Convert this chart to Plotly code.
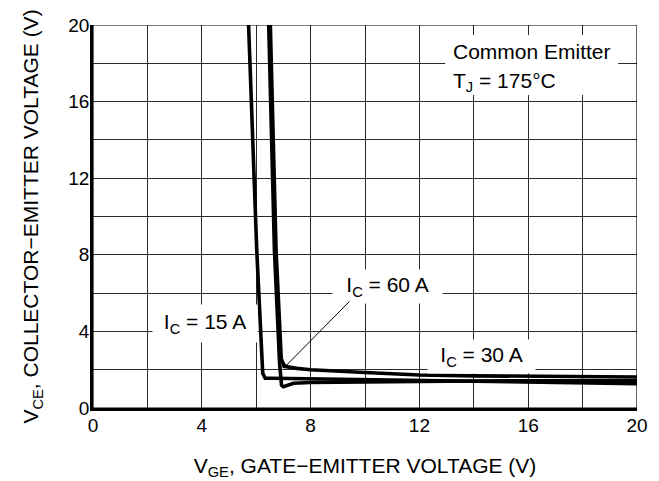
import plotly.graph_objects as go

# Data
vge_15 = [5.72, 6.02, 6.24, 6.33, 6.6, 8, 10, 12, 14, 16, 18, 20]
vce_15 = [20, 8.25, 1.81, 1.55, 1.55, 1.52, 1.48, 1.43, 1.38, 1.33, 1.30, 1.27]

vge_30 = [6.46, 6.67, 6.86, 6.93, 7.0, 7.37, 8, 10, 12, 14, 16, 18, 20]
vce_30 = [20, 8.25, 2.33, 1.2, 1.11, 1.29, 1.33, 1.37, 1.40, 1.41, 1.42, 1.42, 1.42]

vge_60 = [6.52, 6.73, 6.92, 7.02, 7.49, 8, 10, 12, 14, 16, 18, 20]
vce_60 = [20, 8.25, 2.6, 2.18, 2.07, 2.0, 1.85, 1.72, 1.68, 1.66, 1.64, 1.62]

x_ticks = [0, 4, 8, 12, 16, 20]
y_ticks = [0, 4, 8, 12, 16, 20]

FONT = "Liberation Sans, Arial, sans-serif"
GRID = "#2a2a2a"

fig = go.Figure()
for xs, ys in [(vge_15, vce_15), (vge_30, vce_30), (vge_60, vce_60)]:
    fig.add_trace(go.Scatter(x=xs, y=ys, mode="lines",
                             line=dict(color="black", width=3.6, shape="linear"),
                             hoverinfo="skip", showlegend=False))

axis_common = dict(range=[0, 20], showgrid=True, gridcolor=GRID,
                   gridwidth=1, minor=dict(dtick=2, showgrid=True, gridcolor=GRID, gridwidth=1),
                   showline=True, linecolor="black", linewidth=2.5, zeroline=False,
                   ticks="", tickfont=dict(family=FONT, size=19, color="black"),
                   fixedrange=True, automargin=False)

fig.update_xaxes(**axis_common, tickvals=x_ticks, ticklabelstandoff=-2,
                 title=dict(text="V<sub>GE</sub>, GATE\u2212EMITTER VOLTAGE (V)",
                            font=dict(family=FONT, size=21, color="black"), standoff=24))
fig.update_yaxes(**axis_common, tickvals=y_ticks, ticklabelstandoff=-3,
                 title=dict(text="V<sub>CE</sub>, COLLECTOR\u2212EMITTER VOLTAGE (V)",
                            font=dict(family=FONT, size=21, color="black"), standoff=24))

shapes = [
    dict(type="rect", xref="x", yref="y", x0=0, x1=20, y0=0, y1=20,
         line=dict(color="black", width=1.2), layer="above"),
    dict(type="rect", xref="x", yref="y", x0=12.95, x1=19.31, y0=16.34, y1=19.48,
         fillcolor="white", line=dict(width=0), layer="between"),
]

afont = dict(family=FONT, size=21, color="black")
annotations = [
    dict(x=4.125, y=4.41, xref="x", yref="y", text="I<sub>C</sub> = 15 A",
         showarrow=False, bgcolor="white", width=104, height=37, borderpad=0, font=afont),
    dict(x=10.83, y=6.34, xref="x", yref="y", text="I<sub>C</sub> = 60 A",
         showarrow=False, bgcolor="white", width=109, height=33, borderpad=0, font=afont),
    dict(x=14.29, y=2.69, xref="x", yref="y", text="I<sub>C</sub> = 30 A",
         showarrow=False, bgcolor="white", width=107, height=33, borderpad=0, font=afont),
    dict(x=7.0, y=2.07, xref="x", yref="y", ax=9.48, ay=5.64, axref="x", ayref="y",
         text="", showarrow=True, arrowhead=1, arrowsize=1.6, arrowwidth=1,
         arrowcolor="black", standoff=0),
    dict(x=13.15, y=18.6, xref="x", yref="y", text="Common Emitter", xanchor="left",
         showarrow=False, font=afont),
    dict(x=13.15, y=17.04, xref="x", yref="y", text="T<sub>J</sub> = 175\u00b0C", xanchor="left",
         showarrow=False, font=afont),
]

fig.update_layout(width=659, height=481, margin=dict(l=93, r=22, t=25, b=73),
                  paper_bgcolor="white", plot_bgcolor="white",
                  shapes=shapes, annotations=annotations, showlegend=False)

fig.write_html("out.html", config={"displayModeBar": False})
